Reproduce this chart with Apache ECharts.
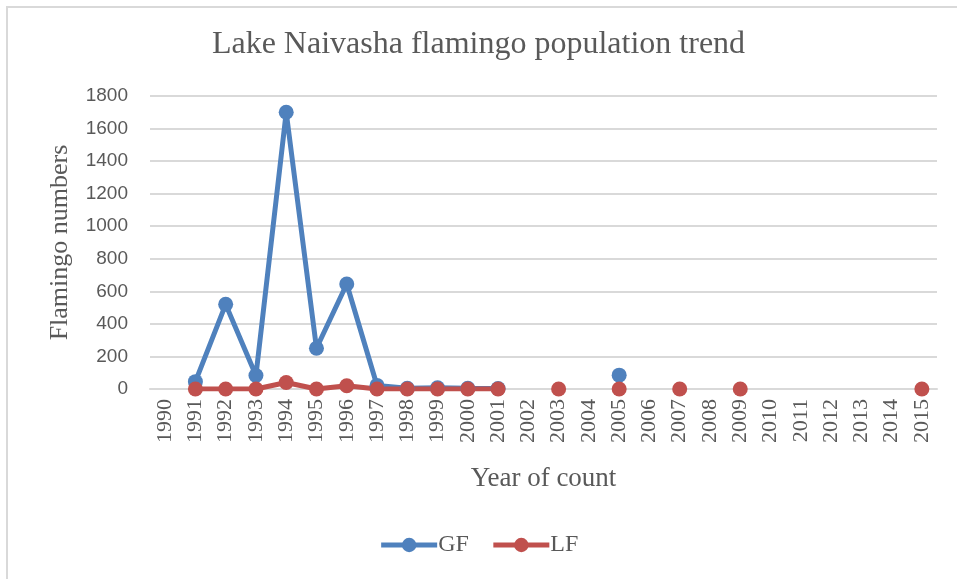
<!DOCTYPE html>
<html>
<head>
<meta charset="utf-8">
<script src="https://cdn.jsdelivr.net/npm/echarts@6/dist/echarts.min.js"></script>
<style>
  html, body { margin: 0; padding: 0; background: #fff; }
  #frame { position: absolute; left: 6px; top: 6px; width: 960px; height: 580px;
           border-left: 2px solid #d9d9d9; border-top: 2px solid #d9d9d9; }
  #main { position: absolute; left: 0; top: 0; width: 957px; height: 579px; }
</style>
</head>
<body>
<div id="frame"></div>
<div id="main"></div>
<script>
  var years = ['1990','1991','1992','1993','1994','1995','1996','1997','1998','1999','2000','2001','2002',
               '2003','2004','2005','2006','2007','2008','2009','2010','2011','2012','2013','2014','2015']
  var gf = [null,45,520,83,1700,250,645,22,5,8,5,3,null,null,null,85,null,null,null,null,null,null,null,null,null,null]
  var lf = [null,0,0,0,40,0,20,0,0,0,0,0,null,0,null,0,null,0,null,0,null,null,null,null,null,0]
  var yTicks = [0,200,400,600,800,1000,1200,1400,1600,1800]

  var serif = '"Liberation Serif", "DejaVu Serif", serif'
  var chart = echarts.init(document.getElementById('main'))
  chart.setOption({
    animation: false,
    title: {
      text: 'Lake Naivasha flamingo population trend',
      left: 'center',
      top: 24,
      textStyle: { fontFamily: serif, fontSize: 32, fontWeight: 'normal', color: '#595959' }
    },
    legend: {
      data: ['GF','LF'],
      bottom: 17,
      left: 'center',
      itemWidth: 56,
      itemHeight: 18,
      itemGap: 22,
      lineStyle: { width: 5 },
      textStyle: { fontFamily: serif, fontSize: 24, color: '#595959', padding: [0,0,0,-4] }
    },
    grid: { left: 150, right: 20, top: 96, bottom: 190, containLabel: false },
    xAxis: {
      type: 'category',
      data: years,
      boundaryGap: true,
      name: 'Year of count',
      nameLocation: 'middle',
      nameGap: 76,
      nameTextStyle: { fontFamily: serif, fontSize: 27, color: '#595959' },
      axisLine: { show: true, lineStyle: { color: '#d9d9d9', width: 2 } },
      axisTick: { show: false },
      axisLabel: { rotate: 90, interval: 0, margin: 10, fontFamily: serif, fontSize: 22, color: '#595959' }
    },
    yAxis: {
      type: 'value',
      min: 0,
      max: 1800,
      interval: 200,
      name: 'Flamingo numbers',
      nameLocation: 'middle',
      nameGap: 77,
      nameTextStyle: { fontFamily: serif, fontSize: 26, color: '#595959' },
      axisLine: { show: false },
      axisTick: { show: false },
      axisLabel: {
        margin: 22, fontFamily: '"Liberation Sans", Arimo, sans-serif', fontSize: 19, color: '#595959',
        formatter: function (v) { return yTicks.indexOf(v) >= 0 ? String(v) : '' }
      },
      splitLine: { lineStyle: { color: '#d9d9d9', width: 2 } }
    },
    series: [
      {
        name: 'GF', type: 'line', data: gf,
        connectNulls: false, showAllSymbol: true,
        symbol: 'circle', symbolSize: 15,
        itemStyle: { color: '#4f81bd' },
        lineStyle: { color: '#4f81bd', width: 5 }
      },
      {
        name: 'LF', type: 'line', data: lf,
        connectNulls: false, showAllSymbol: true,
        symbol: 'circle', symbolSize: 15,
        itemStyle: { color: '#c0504d' },
        lineStyle: { color: '#c0504d', width: 5 }
      }
    ]
  })
</script>
</body>
</html>
